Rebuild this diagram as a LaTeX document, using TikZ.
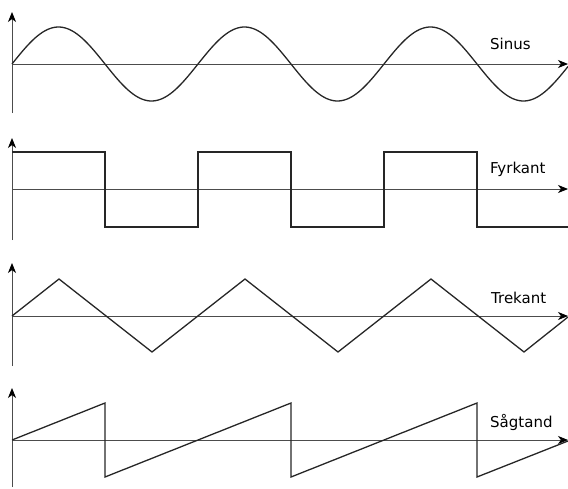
\documentclass[tikz,border=0pt]{standalone}
\usepackage{fontspec}
\setmainfont{DejaVu Sans}
\usetikzlibrary{arrows.meta}
\begin{document}
\begin{tikzpicture}[x=1pt,y=-1pt,
  axisline/.style={line width=0.8pt,color=black!70,-{Stealth[length=10pt,width=8pt,inset=3pt,color=black]}},
  wave/.style={line width=1.3pt,color=black!85,line join=miter},
  lbl/.style={anchor=base west,inner sep=0pt,font=\fontsize{15}{18}\selectfont}]
\useasboundingbox (0,0) rectangle (568,488);
% ---------- Sinus ----------
\coordinate (s0) at (12,113);
\coordinate (s1) at (12,12);
\coordinate (sa) at (12,64);
\coordinate (sb) at (568,64);
\draw[axisline] (s0) -- (s1);
\draw[axisline] (sa) -- (sb);
\draw[wave] plot[domain=12:568,samples=240,smooth] (\x,{64-37*sin((\x-12)*1.935484)});
\node[lbl] (tsin) at (490,49) {Sinus};
% ---------- Fyrkant ----------
\coordinate (f0) at (12,240);
\coordinate (f1) at (12,138);
\coordinate (fa) at (12,189);
\coordinate (fb) at (568,189);
\draw[axisline] (f0) -- (f1);
\draw[axisline] (fa) -- (fb);
\draw[wave] (12,152) -- (105,152) -- (105,227) -- (198,227) -- (198,152) -- (291,152)
  -- (291,227) -- (384,227) -- (384,152) -- (477,152) -- (477,227) -- (568,227);
\node[lbl] (tfyr) at (490,173) {Fyrkant};
% ---------- Trekant ----------
\coordinate (t0) at (12,366);
\coordinate (t1) at (12,263);
\coordinate (ta) at (12,316);
\coordinate (tb) at (568,316);
\draw[axisline] (t0) -- (t1);
\draw[axisline] (ta) -- (tb);
\draw[wave] (12,316) -- (59,279) -- (152,352) -- (245,279) -- (338,352) -- (431,279)
  -- (524,352) -- (568,317);
\node[lbl] (ttre) at (491,303) {Trekant};
% ---------- Sågtand ----------
\coordinate (g0) at (12,487);
\coordinate (g1) at (12,388);
\coordinate (ga) at (12,440);
\coordinate (gb) at (568,440);
\draw[axisline] (g0) -- (g1);
\draw[axisline] (ga) -- (gb);
\draw[wave] (12,440) -- (105,403) -- (105,477) -- (291,403) -- (291,477) -- (477,403)
  -- (477,477) -- (568,441);
\node[lbl] (tsag) at (490,427) {Sågtand};
\end{tikzpicture}
\end{document}
